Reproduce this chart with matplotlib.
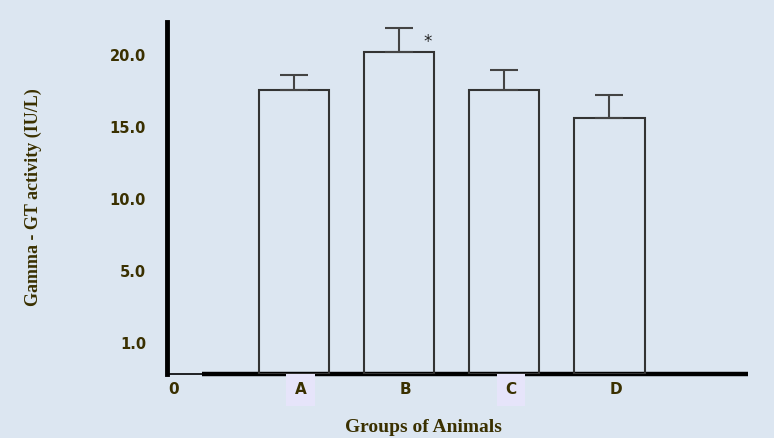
import matplotlib.pyplot as plt

# bar chart of gamma-GT activity per group, one-sided error bars

groups = ['A', 'B', 'C', 'D']
means = [17.6, 20.2, 17.6, 15.6]
errs = [1.0, 1.7, 1.4, 1.6]
ytick_vals = [20, 15, 10, 5, 0]
ytick_labels = ['20.0', '15.0', '10.0', '5.0', '1.0']

bg = '#dce6f1'
txt = '#3a3000'
y0 = -2.15

fig = plt.figure(figsize=(7.74, 4.38), dpi=100, facecolor=bg)
ax = fig.add_axes([167/774, 1 - 374/438, (748 - 167)/774, (374 - 22)/438])
ax.set_facecolor(bg)

x = list(range(len(groups)))
heights = [m - y0 for m in means]
ax.bar(x, heights, bottom=y0, width=0.67, facecolor='none',
       edgecolor='#333333', linewidth=1.5, zorder=3)
ax.errorbar(x, means, yerr=[[0]*len(errs), errs], fmt='none',
            ecolor='#444444', elinewidth=1.5, capsize=10, capthick=1.5, zorder=3)
ax.text(1.27, 20.9, '*', fontsize=12, color='#222222',
        ha='center', va='center')

ax.set_xlim(-1.21, 4.32)
ax.set_ylim(y0, 22.3)

for s in ['top', 'right']:
    ax.spines[s].set_visible(False)
ax.spines['left'].set_linewidth(3.5)
ax.spines['left'].set_color('black')
ax.spines['bottom'].set_linewidth(1.2)
ax.spines['bottom'].set_bounds(-1.21, -0.35)
ax.plot([-0.88, 4.32], [y0, y0], color='black', linewidth=3.2,
        clip_on=False, zorder=2, solid_capstyle='butt')

ax.set_yticks(ytick_vals)
ax.set_yticklabels(ytick_labels, fontsize=10.5, fontweight='bold', color=txt)
ax.tick_params(axis='y', length=0, pad=15)
ax.set_xticks([])

trans = ax.get_xaxis_transform()
ax.text(-1.15, -0.045, '0', transform=trans, ha='center', va='center',
        fontsize=11, fontweight='bold', color=txt)
for i, g in enumerate(groups):
    box = None
    if g in ('A', 'C'):
        box = dict(boxstyle='square,pad=0.55', facecolor='#e6e4fa', edgecolor='none')
    ax.text(i + 0.06, -0.045, g, transform=trans, ha='center', va='center',
            fontsize=11, fontweight='bold', color=txt, bbox=box, zorder=4)

fig.text(0.547, 0.025, 'Groups of Animals', ha='center', va='center',
         fontsize=14, fontweight='bold', family='Liberation Serif', color=txt)
fig.text(0.043, 0.55, 'Gamma - GT activity (IU/L)', ha='center', va='center',
         rotation=90, fontsize=13, fontweight='bold', family='Liberation Serif',
         color=txt)

fig.savefig('out.png', dpi=100, facecolor=bg)
